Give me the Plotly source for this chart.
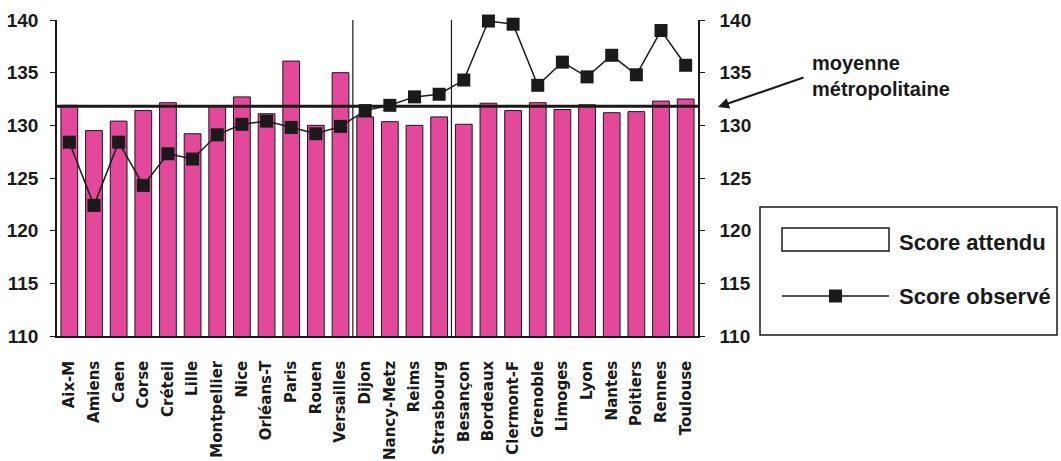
import plotly.graph_objects as go

# Académies, grouped in three blocks (separated by vertical rules)
academies = ["Aix-M", "Amiens", "Caen", "Corse", "Créteil", "Lille", "Montpellier",
             "Nice", "Orléans-T", "Paris", "Rouen", "Versailles",
             "Dijon", "Nancy-Metz", "Reims", "Strasbourg",
             "Besançon", "Bordeaux", "Clermont-F", "Grenoble", "Limoges", "Lyon",
             "Nantes", "Poitiers", "Rennes", "Toulouse"]

score_attendu = [131.9, 129.5, 130.4, 131.4, 132.15, 129.2, 131.8,
                 132.7, 131.1, 136.1, 130.0, 135.0,
                 130.8, 130.35, 130.0, 130.8,
                 130.1, 132.1, 131.4, 132.15, 131.5, 131.95,
                 131.2, 131.3, 132.3, 132.5]

score_observe = [128.4, 122.4, 128.4, 124.3, 127.3, 126.8, 129.1,
                 130.1, 130.4, 129.8, 129.2, 129.9,
                 131.4, 131.9, 132.7, 132.95,
                 134.3, 139.9, 139.6, 133.8, 136.0, 134.6,
                 136.65, 134.8, 139.0, 135.7]

moyenne_metropolitaine = 131.8
block_breaks = [11.5, 15.5]
y_ticks = [110, 115, 120, 125, 130, 135, 140]

PINK = "#E4489A"
INK = "#1a1a1a"

# plot-area geometry (pixels) used for paper-referenced decorations
W, H = 1061, 461
L, R, T, B = 57, 363, 20, 125
PW, PH = W - L - R, H - T - B


def px(x):
    return (x - L) / PW


def py(y):
    return (H - B - y) / PH


fig = go.Figure()

fig.add_trace(go.Bar(
    x=list(range(len(academies))), y=score_attendu, name="Score attendu",
    marker=dict(color=PINK, line=dict(color=INK, width=1)),
    width=0.68, showlegend=False,
))

fig.add_trace(go.Scatter(
    x=list(range(len(academies))), y=score_observe, name="Score observé",
    mode="lines+markers", yaxis="y2",
    line=dict(color=INK, width=1.5),
    marker=dict(symbol="square", size=13, color=INK),
    cliponaxis=False, showlegend=False,
))

tickfont = dict(family="Liberation Sans, Arial", size=19, color=INK, weight="bold")

fig.update_layout(
    width=W, height=H,
    margin=dict(l=L, r=R, t=T, b=B),
    paper_bgcolor="white", plot_bgcolor="white",
    bargap=0.3,
    xaxis=dict(
        range=[-0.5, len(academies) - 0.5],
        tickmode="array", tickvals=list(range(len(academies))), ticktext=academies,
        tickangle=-90, ticks="", ticklabelstandoff=17,
        tickfont=dict(family="DejaVu Sans", size=15, color=INK, weight="bold"),
        showline=True, linecolor=INK, linewidth=1.5,
        showgrid=False, zeroline=False, automargin=False,
    ),
    yaxis=dict(
        range=[110, 140], tickvals=y_ticks,
        ticks="outside", ticklen=5, tickcolor=INK, tickwidth=1.2,
        ticklabelstandoff=8,
        tickfont=tickfont,
        showline=True, linecolor=INK, linewidth=1.5,
        showgrid=False, zeroline=False, automargin=False,
    ),
    yaxis2=dict(
        range=[110, 140], tickvals=y_ticks, overlaying="y", side="right",
        ticks="outside", ticklen=5, tickcolor=INK, tickwidth=1.2,
        ticklabelstandoff=11,
        tickfont=tickfont,
        showline=True, linecolor=INK, linewidth=1.5,
        showgrid=False, zeroline=False, automargin=False,
    ),
)

# national reference line
fig.add_shape(type="line", xref="paper", yref="y", x0=0, x1=1,
              y0=moyenne_metropolitaine, y1=moyenne_metropolitaine,
              line=dict(color=INK, width=3), layer="above")

# vertical rules between groups of académies
for xb in block_breaks:
    fig.add_shape(type="line", xref="x", yref="paper", x0=xb, x1=xb, y0=0, y1=1,
                  line=dict(color=INK, width=1.2), layer="above")

# annotation for the reference line
fig.add_annotation(xref="paper", yref="paper", x=px(718), y=py(107),
                   ax=87, ay=-30, text="", showarrow=True,
                   arrowhead=2, arrowsize=1.1, arrowwidth=2, arrowcolor=INK)
fig.add_annotation(xref="paper", yref="paper", x=px(810), y=py(76),
                   xanchor="left", yanchor="middle", align="left", showarrow=False,
                   text="moyenne<br>métropolitaine",
                   font=dict(family="Liberation Sans, Arial", size=20, color=INK, weight="bold"))

# hand-built legend box
fig.add_shape(type="rect", xref="paper", yref="paper",
              x0=px(760), x1=px(1057), y0=py(335), y1=py(207),
              line=dict(color=INK, width=1.5), fillcolor="white")
fig.add_shape(type="rect", xref="paper", yref="paper",
              x0=px(782), x1=px(889), y0=py(251), y1=py(228),
              line=dict(color=INK, width=1.5), fillcolor="white")
fig.add_shape(type="line", xref="paper", yref="paper",
              x0=px(782), x1=px(889), y0=py(296), y1=py(296),
              line=dict(color=INK, width=1.5))
fig.add_shape(type="rect", xref="paper", yref="paper",
              x0=px(829), x1=px(842), y0=py(302.5), y1=py(289.5),
              line=dict(color=INK, width=0), fillcolor=INK)

legend_font = dict(family="Liberation Sans, Arial", size=22, color=INK, weight="bold")
fig.add_annotation(xref="paper", yref="paper", x=px(897), y=py(242),
                   xanchor="left", yanchor="middle", showarrow=False,
                   text="Score attendu", font=legend_font)
fig.add_annotation(xref="paper", yref="paper", x=px(897), y=py(296),
                   xanchor="left", yanchor="middle", showarrow=False,
                   text="Score observé", font=legend_font)

fig.write_html("out.html")
